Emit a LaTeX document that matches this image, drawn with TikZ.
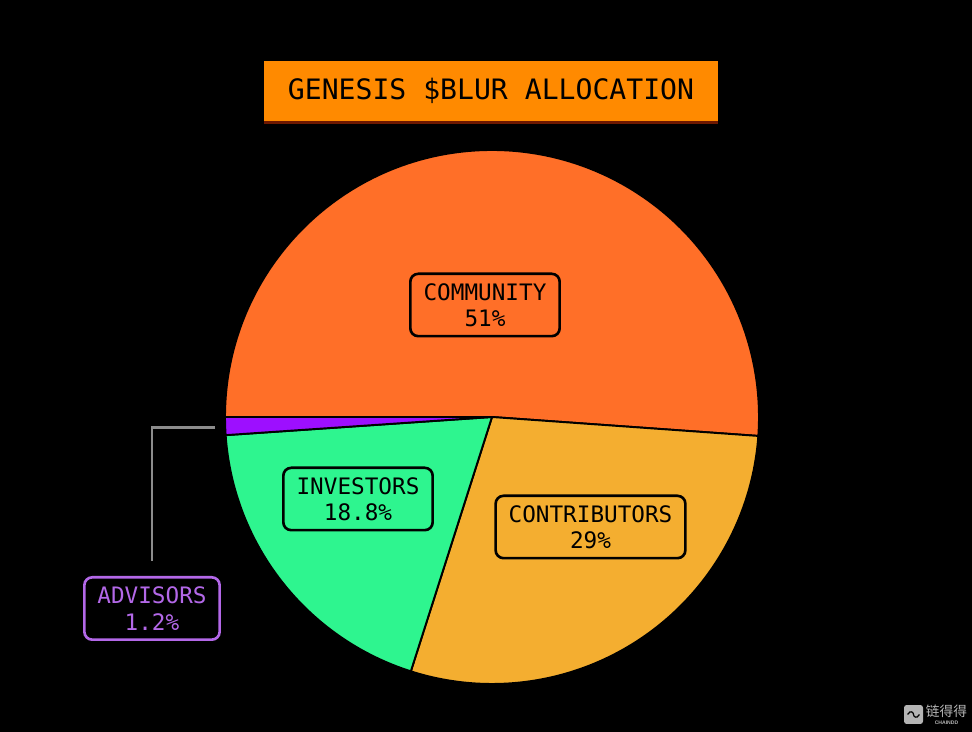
\documentclass[tikz,border=0pt]{standalone}
\usepackage{fontspec}
\newfontfamily\monofont{DejaVu Sans Mono}
\newfontfamily\cjkfont{Noto Sans CJK SC}
\newfontfamily\markfont{Liberation Sans}
\usetikzlibrary{positioning,shadows}

\definecolor{communitycolor}{HTML}{FF6F28}
\definecolor{contribcolor}{HTML}{F4AE30}
\definecolor{investcolor}{HTML}{2EF58F}
\definecolor{advisorcolor}{HTML}{9D0FFF}
\definecolor{advisorline}{HTML}{B368E8}
\definecolor{titlecolor}{HTML}{FF8A00}
\definecolor{titleglow}{HTML}{6E1800}
\definecolor{markcolor}{HTML}{B4B4B4}

\begin{document}
\begin{tikzpicture}[
    x=0.02cm,
    y=0.02cm,
    slice/.style={
        draw=black,
        line width=1.1pt,
        line join=round
    },
    tag/.style={
        draw=#1,
        text=#1,
        line width=1.5pt,
        rounded corners=4.5pt,
        minimum height=35.5pt,
        align=center,
        inner sep=0pt,
        font=\monofont\fontsize{12.9}{15}\selectfont
    },
    tag/.default=black,
    titlebox/.style={
        fill=titlecolor,
        minimum width=258pt,
        minimum height=34pt,
        inner sep=0pt,
        text=black,
        font=\monofont\fontsize{16}{18}\selectfont,
        general shadow={fill=titleglow, shadow xshift=0pt, shadow yshift=-1.8pt}
    },
    leader/.style={
        draw=black!45,
        line width=1.7pt
    }
]

% background
\fill[black] (0,0) rectangle (972,732);

% pie slices
\coordinate (hub) at (492,315);
\filldraw[slice, fill=communitycolor] (hub) -- ++(180:267) arc[start angle=180, end angle=-4.07, radius=267] -- cycle;
\filldraw[slice, fill=contribcolor] (hub) -- ++(-4.07:267) arc[start angle=-4.07, end angle=-107.7, radius=267] -- cycle;
\filldraw[slice, fill=investcolor] (hub) -- ++(252.3:267) arc[start angle=252.3, end angle=183.9, radius=267] -- cycle;
\filldraw[slice, fill=advisorcolor] (hub) -- ++(183.9:267) arc[start angle=183.9, end angle=180, radius=267] -- cycle;

% title
\node[titlebox] (title) at (491,641) {GENESIS \$BLUR ALLOCATION};

% labels
\node[tag, minimum width=85pt] (community) at (485,427) {COMMUNITY\\51\%};
\node[tag, minimum width=85pt] (investors) at (358,233) {INVESTORS\\18.8\%};
\node[tag, minimum width=108pt] (contributors) at (590.5,205) {CONTRIBUTORS\\29\%};
\node[tag=advisorline, minimum width=77pt] (advisors) at (152,123.5) {ADVISORS\\1.2\%};

% leader to the small slice
\coordinate (advisortick) at (215,304);
\draw[leader, shorten >=8.5pt] (advisortick) -| (advisors.north);

% watermark
\node[fill=markcolor, rounded corners=1.5pt, minimum size=10.8pt, inner sep=0pt] (logo) at (913.5,17.5) {};
\draw[black, line width=0.7pt] ([xshift=-3.4pt]logo.center) .. controls ([xshift=-1.6pt,yshift=3pt]logo.center) and ([xshift=0pt,yshift=1pt]logo.center) .. (logo.center) .. controls ([xshift=0pt,yshift=-1pt]logo.center) and ([xshift=1.6pt,yshift=-3pt]logo.center) .. ([xshift=3.4pt]logo.center);
\node[text=markcolor, inner sep=0pt, font=\cjkfont\fontsize{7.8}{8}\selectfont] (markname) at (946.5,20.5) {链得得};
\node[text=markcolor, inner sep=0pt, below=1.2pt of markname, font=\markfont\bfseries\fontsize{2.9}{3}\selectfont] (marklatin) {CHAINDD};

\end{tikzpicture}
\end{document}
